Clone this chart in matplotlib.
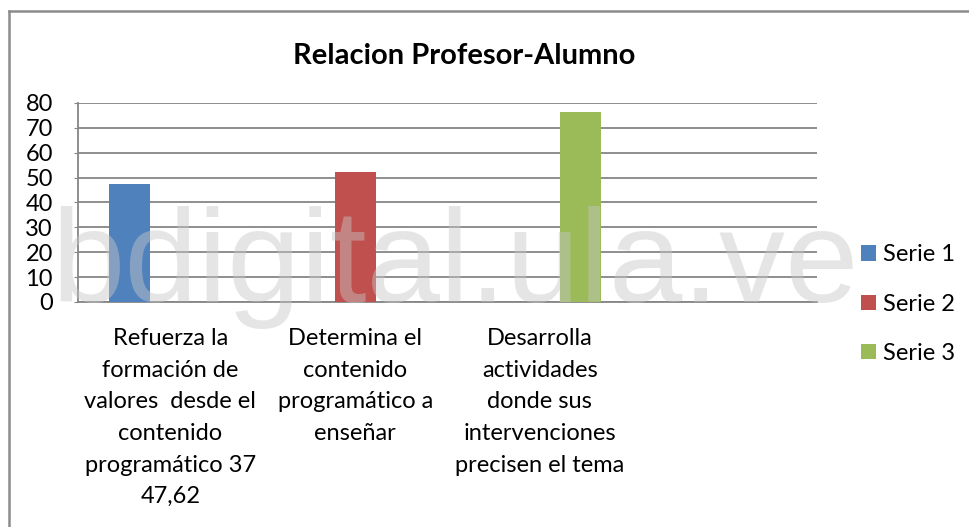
import matplotlib
matplotlib.use("Agg")
import matplotlib.pyplot as plt
from matplotlib.patches import Patch
from matplotlib.lines import Line2D

categories = [
    "Refuerza la\nformación de\nvalores  desde el\ncontenido\nprogramático 37\n47,62",
    "Determina el\ncontenido\nprogramático a\nenseñar",
    "Desarrolla\nactividades\ndonde sus\nintervenciones\nprecisen el tema",
    "",
]
series_names = ["Serie 1", "Serie 2", "Serie 3"]
serie1 = [47.62, 0, 0, 0]
serie2 = [0, 52.38, 0, 0]
serie3 = [0, 0, 76.19, 0]
colors = ["#4F81BD", "#C0504D", "#9BBB59"]
yticks = [0, 10, 20, 30, 40, 50, 60, 70, 80]
title = "Relacion Profesor-Alumno"
watermark = "bdigital.ula.ve"

W, H = 969, 527
fig = plt.figure(figsize=(W / 100, H / 100), dpi=100)
FONT = "Lato"
plt.rcParams["font.family"] = [FONT, "DejaVu Sans"]
FS = 17

ax = fig.add_axes([78 / W, 1 - 302 / H, (817 - 78) / W, (302 - 103) / H])
x = list(range(len(categories)))
bw = 0.222
for i, (vals, name, c) in enumerate(zip([serie1, serie2, serie3], series_names, colors)):
    xs = [xi + (i - 1) * bw for xi in x]
    ax.bar(xs, vals, width=bw, color=c, label=name, zorder=3, linewidth=0)

ax.set_xlim(-0.5, len(categories) - 0.5)
ax.set_ylim(0, 80)
ax.set_yticks(yticks)
ax.set_yticklabels([str(t) for t in yticks], fontsize=FS)
ax.yaxis.grid(True, color="#868686", linewidth=1.3, zorder=1)
ax.set_axisbelow(True)
ax.set_xticks(x)
ax.set_xticklabels(categories, fontsize=FS, linespacing=1.62)
ax.tick_params(axis="x", length=0, pad=19)
ax.tick_params(axis="y", length=3, color="#868686", pad=15)
for s in ["top", "right"]:
    ax.spines[s].set_visible(False)
for s in ["left", "bottom"]:
    ax.spines[s].set_color("#868686")
    ax.spines[s].set_linewidth(1.3)

fig.text(464 / W, 1 - 56 / H, title, ha="center", va="center",
         fontsize=21, fontweight="bold")

handles = [Patch(facecolor=c, edgecolor="none") for c in colors]
leg = fig.legend(handles, series_names, loc="upper left",
                 bbox_to_anchor=(840 / W, 1 - 223 / H), frameon=False,
                 fontsize=FS, handlelength=0.62, handleheight=0.62,
                 handletextpad=0.3, labelspacing=1.2)

fig.text(52 / W, 1 - 302 / H, watermark, ha="left", va="baseline",
         fontsize=95, family="Liberation Sans", color=(0.78, 0.78, 0.78),
         alpha=0.45, zorder=10)

fig.add_artist(Line2D([9 / W, 9 / W], [0, 1 - 11 / H], color="#8c8c8c", linewidth=1.8,
                      transform=fig.transFigure))
fig.add_artist(Line2D([9 / W, 1], [1 - 11 / H, 1 - 11 / H], color="#8c8c8c", linewidth=1.8,
                      transform=fig.transFigure))

fig.savefig("out.png", dpi=100)
